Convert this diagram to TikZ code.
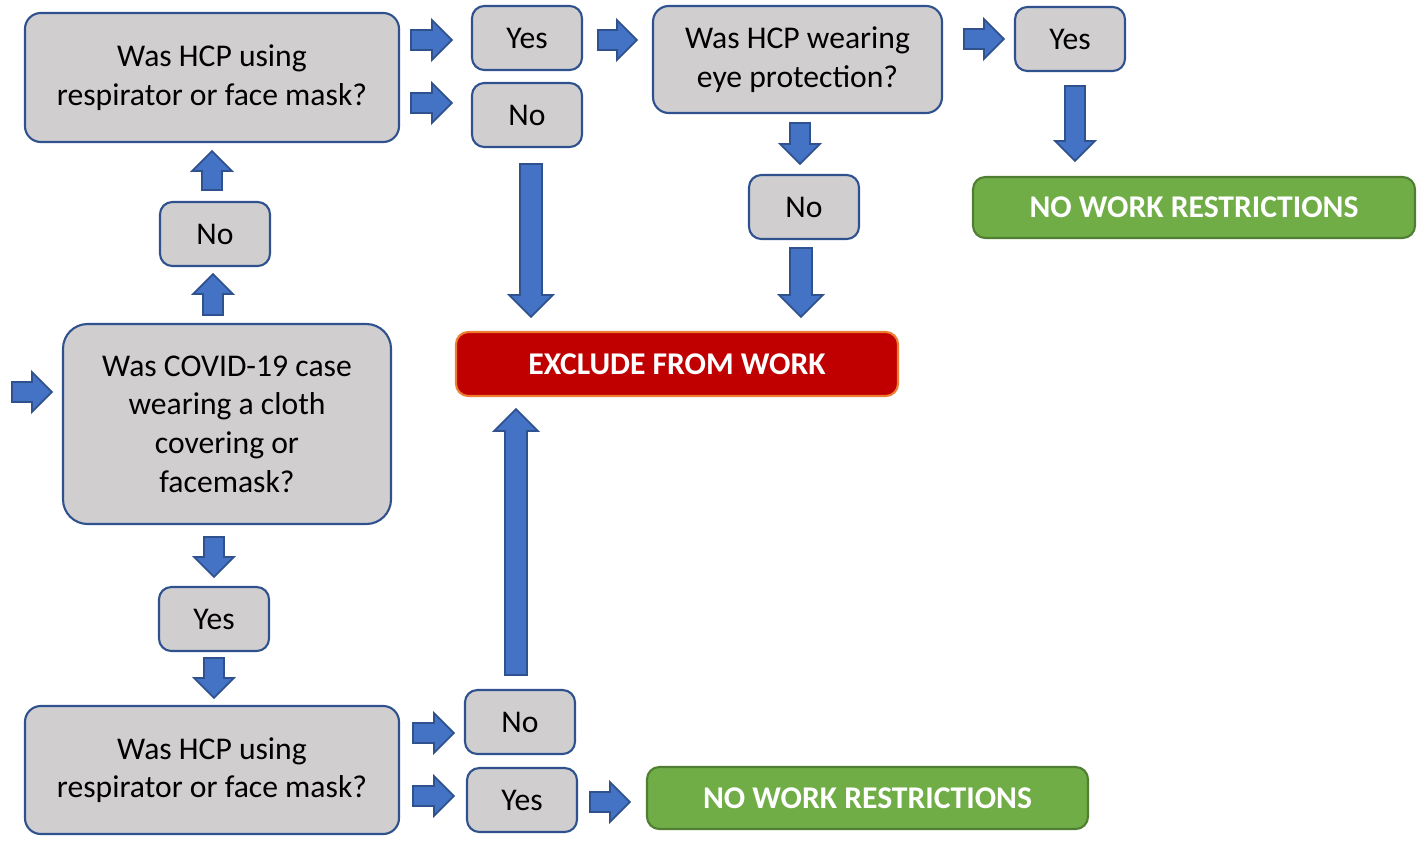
\documentclass[tikz,border=0pt]{standalone}
\usepackage{fontspec}
\setmainfont{Carlito}
\usepackage{tikz}
\usetikzlibrary{calc}
\definecolor{boxfill}{RGB}{208,206,206}
\definecolor{boxedge}{RGB}{47,82,143}
\definecolor{arrowfill}{RGB}{68,114,196}
\definecolor{exclfill}{RGB}{192,0,0}
\definecolor{excledge}{RGB}{237,125,49}
\definecolor{okfill}{RGB}{112,173,71}
\definecolor{okedge}{RGB}{80,126,50}
% block arrow from #2 to #3, half head width #1
\newcommand{\barrow}[3][0.4]{%
  \pgfmathsetmacro\bahw{#1}\pgfmathsetmacro\basw{#1/2}%
  \coordinate (ba-s) at (#2);
  \coordinate (ba-e) at (#3);
  \coordinate (ba-n) at ($(ba-e)!\bahw cm!(ba-s)$);
  \draw[blockarrow] ($(ba-s)!\basw cm!-90:(ba-e)$) -- ($(ba-n)!\basw cm!-90:(ba-e)$)
    -- ($(ba-n)!\bahw cm!-90:(ba-e)$) -- (ba-e) -- ($(ba-n)!\bahw cm!90:(ba-e)$)
    -- ($(ba-n)!\basw cm!90:(ba-e)$) -- ($(ba-s)!\basw cm!90:(ba-e)$) -- cycle;
}

\begin{document}
\begin{tikzpicture}[
    box/.style={draw=boxedge, fill=boxfill, line width=1.2pt, rounded corners=9pt,
      align=center, inner sep=0pt, font=\fontsize{18}{22}\selectfont},
    ans/.style={box, minimum width=2.2cm, minimum height=1.28cm, rounded corners=7pt},
    excl/.style={draw=excledge, fill=exclfill, line width=1.2pt, rounded corners=7pt,
      text=white, inner sep=0pt, font=\fontsize{18}{22}\selectfont\bfseries},
    ok/.style={excl, draw=okedge, fill=okfill},
    blockarrow/.style={draw=boxedge, fill=arrowfill, line width=1pt, line join=miter}]
	\useasboundingbox (0,0) rectangle (28.52,-16.82);

	% questions
	\node [box, minimum width=7.48cm, minimum height=2.58cm] (q1) at (4.24,-1.55) {Was HCP using\\respirator or face mask?};
	\node [box, minimum width=5.78cm, minimum height=2.14cm] (q2) at (15.95,-1.19) {Was HCP wearing\\eye protection?};
	\node [box, minimum width=6.56cm, minimum height=4.0cm, rounded corners=14pt] (q0) at (4.54,-8.48) {Was COVID-19 case\\wearing a cloth\\covering or\\facemask?};
	\node [box, minimum width=7.48cm, minimum height=2.56cm] (q3) at (4.24,-15.40) {Was HCP using\\respirator or face mask?};

	% answers
	\node [ans] (y1) at (10.54,-0.76) {Yes};
	\node [ans] (n1) at (10.54,-2.30) {No};
	\node [ans] (y2) at (21.40,-0.78) {Yes};
	\node [ans] (n2) at (16.08,-4.14) {No};
	\node [ans] (n0) at (4.30,-4.68) {No};
	\node [ans] (y0) at (4.28,-12.38) {Yes};
	\node [ans] (n3) at (10.40,-14.44) {No};
	\node [ans] (y3) at (10.44,-16.00) {Yes};

	% outcomes
	\node [excl, minimum width=8.84cm, minimum height=1.28cm] (out) at (13.54,-7.28) {EXCLUDE FROM WORK};
	\node [ok, minimum width=8.84cm, minimum height=1.22cm] (ok1) at (23.88,-4.15) {NO WORK RESTRICTIONS};
	\node [ok, minimum width=8.82cm, minimum height=1.24cm] (ok2) at (17.35,-15.96) {NO WORK RESTRICTIONS};

	\coordinate (in) at (0.24,-7.84);
	\barrow{in}{$(q0.west)+(-0.2,0.64)$}
	\barrow{$(n0.south|-q0.north)+(-0.04,0.16)$}{$(n0.south)+(-0.04,-0.14)$}
	\barrow{$(n0.north)+(-0.06,0.22)$}{$(n0.north|-q1.south)+(-0.06,-0.16)$}
	\barrow{$(q1.east|-y1)+(0.22,-0.04)$}{$(y1.west)+(-0.38,-0.04)$}
	\barrow{$(q1.east|-n1)+(0.22,0.24)$}{$(n1.west)+(-0.38,0.24)$}
	\barrow{$(y1.east)+(0.3,-0.04)$}{$(q2.west|-y1)+(-0.3,-0.04)$}
	\barrow{$(q2.east|-y2)+(0.42,0)$}{$(y2.west)+(-0.2,0)$}
	\barrow{$(y2.south)+(0.1,-0.28)$}{$(y2.south|-ok1.north)+(0.1,0.3)$}
	\barrow{$(q2.south)+(0.05,-0.18)$}{$(q2.south|-n2.north)+(0.05,0.2)$}
	\barrow[0.44]{$(n2.south)+(-0.06,-0.16)$}{$(n2.south|-out.north)+(-0.06,0.28)$}
	\barrow[0.44]{$(n1.south)+(0.08,-0.32)$}{$(n1.south|-out.north)+(0.08,0.28)$}
	\barrow{$(y0.north|-q0.south)+(0,-0.24)$}{$(y0.north)+(0,0.18)$}
	\barrow{$(y0.south)+(0,-0.12)$}{$(y0.south|-q3.north)+(0,0.14)$}
	\barrow{$(q3.east|-n3)+(0.26,-0.22)$}{$(n3.west)+(-0.2,-0.22)$}
	\barrow{$(q3.east|-y3)+(0.26,0.08)$}{$(y3.west)+(-0.24,0.08)$}
	\barrow{$(y3.east)+(0.24,-0.04)$}{$(ok2.west|-y3)+(-0.32,-0.04)$}
	\barrow[0.44]{$(n3.north)+(-0.08,0.28)$}{$(n3.north|-out.south)+(-0.08,-0.24)$}
\end{tikzpicture}
\end{document}
